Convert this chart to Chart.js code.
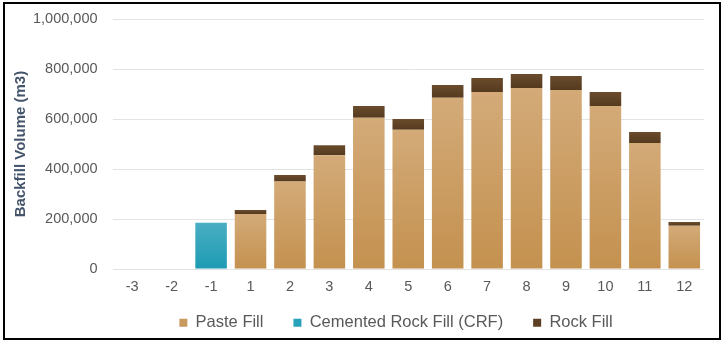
<!DOCTYPE html>
<html>
<head>
<meta charset="utf-8">
<title>Backfill Volume</title>
<script src="https://cdn.jsdelivr.net/npm/chart.js@4/dist/chart.umd.min.js"></script>
<style>
    html, body {
        margin: 0;
        padding: 0;
        background: #fff;
    }
    #frame {
        position: absolute;
        left: 3px;
        top: 2px;
        width: 714px;
        height: 334px;
        border: 2px solid #000;
    }
    #wrap {
        position: absolute;
        left: 0;
        top: 0;
        width: 724px;
        height: 345px;
    }
</style>
</head>
<body>
<div id="wrap"><canvas id="backfillChart" width="724" height="345"></canvas></div>
<div id="frame"></div>
<script>
// mine years and backfill volumes (m3) per fill type
const years = ['-3', '-2', '-1', '1', '2', '3', '4', '5', '6', '7', '8', '9', '10', '11', '12'];
const pasteFill = [null, null, null, 220000, 350000, 455000, 605000, 557000, 685000, 708000, 724000, 716000, 652000, 504000, 173000];
const crfFill = [null, null, 185000, null, null, null, null, null, null, null, null, null, null, null, null];
const rockFill = [null, null, null, 16000, 26000, 40000, 47000, 43000, 51000, 56000, 56000, 56000, 56000, 44000, 15000];

const yTicks = [0, 200000, 400000, 600000, 800000, 1000000];

// how much of the legend's top padding is handed back to the plot
const LEGEND_LIFT = 20;
// the legend sits a little right of the canvas centre
const LEGEND_SHIFT = 38;

// vertical gradient over one bar, light at the top, darker at the base
function barGradient(topColor, bottomColor, below) {
    return function (context) {
        const chart = context.chart;
        if (!chart.chartArea || !chart.scales.y) {
            return bottomColor;
        }
        const v = context.raw;
        if (v == null) {
            return bottomColor;
        }
        const base = below ? (below[context.dataIndex] || 0) : 0;
        const yScale = chart.scales.y;
        const yTop = yScale.getPixelForValue(base + v);
        const yBottom = yScale.getPixelForValue(base);
        if (!isFinite(yTop) || !isFinite(yBottom) || yTop === yBottom) {
            return bottomColor;
        }
        const g = chart.ctx.createLinearGradient(0, yTop, 0, yBottom);
        g.addColorStop(0, topColor);
        g.addColorStop(1, bottomColor);
        return g;
    };
}

// wide gaps between legend items without the same gap above them
const legendLift = {
    id: 'legendLift',
    beforeInit(chart) {
        const legend = chart.legend;
        const fit = legend.fit;
        legend.fit = function () {
            fit.call(this);
            this.height -= LEGEND_LIFT;
        };
    },
    afterLayout(chart) {
        const legend = chart.legend;
        legend.top -= LEGEND_LIFT;
        legend.left += LEGEND_SHIFT;
        legend.right += LEGEND_SHIFT;
    }
};

function createBackfillChart() {
    const config = {
        type: 'bar',
        data: {
            labels: years,
            datasets: [{
                label: 'Paste Fill',
                data: pasteFill,
                backgroundColor: barGradient('#d3aa78', '#c4914f'),
                stack: 'fill'
            }, {
                label: 'Cemented Rock Fill (CRF)',
                data: crfFill,
                backgroundColor: barGradient('#4aaec3', '#1c9bb3'),
                stack: 'fill'
            }, {
                label: 'Rock Fill',
                data: rockFill,
                backgroundColor: barGradient('#6a4c2c', '#553a1f', pasteFill),
                stack: 'fill'
            }]
        },
        options: {
            responsive: false,
            animation: false,
            layout: {
                padding: { left: 12, right: 20, top: 5, bottom: 4 }
            },
            datasets: {
                bar: {
                    categoryPercentage: 1.0,
                    barPercentage: 0.8,
                    borderWidth: 0
                }
            },
            scales: {
                x: {
                    stacked: true,
                    grid: { display: false, drawTicks: false },
                    border: { display: false },
                    ticks: {
                        color: '#595959',
                        padding: 9,
                        font: { family: 'Liberation Sans', size: 14.5 }
                    }
                },
                y: {
                    stacked: true,
                    min: 0,
                    max: 1000000,
                    afterBuildTicks: function (axis) {
                        axis.ticks = yTicks.map(v => ({ value: v }));
                    },
                    // tick padding would otherwise also push the plot top down
                    afterFit: function (axis) {
                        axis.paddingTop = 19;
                    },
                    grid: { color: '#e3e3e3', lineWidth: 1, drawTicks: false },
                    border: { display: false },
                    ticks: {
                        color: '#595959',
                        padding: 15,
                        font: { family: 'Liberation Sans', size: 14.5 },
                        callback: v => v.toLocaleString('en-US')
                    },
                    title: {
                        display: true,
                        text: 'Backfill Volume (m3)',
                        color: '#44546a',
                        padding: { top: 0, bottom: -12 },
                        font: { family: 'Liberation Sans', size: 15, weight: 'bold' }
                    }
                }
            },
            plugins: {
                tooltip: { enabled: false },
                legend: {
                    position: 'bottom',
                    labels: {
                        color: '#595959',
                        boxWidth: 8,
                        boxHeight: 8,
                        padding: 30,
                        font: { family: 'Liberation Sans', size: 16.5 },
                        generateLabels: function (chart) {
                            const solid = ['#c99a5f', '#27a2ba', '#5c4024'];
                            return chart.data.datasets.map((ds, i) => ({
                                text: ds.label,
                                fillStyle: solid[i],
                                strokeStyle: solid[i],
                                lineWidth: 0,
                                fontColor: '#595959',
                                datasetIndex: i
                            }));
                        }
                    }
                }
            }
        },
        plugins: [legendLift]
    };
    const ctx = document.getElementById('backfillChart').getContext('2d');
    new Chart(ctx, config);
}

createBackfillChart();
</script>
</body>
</html>
